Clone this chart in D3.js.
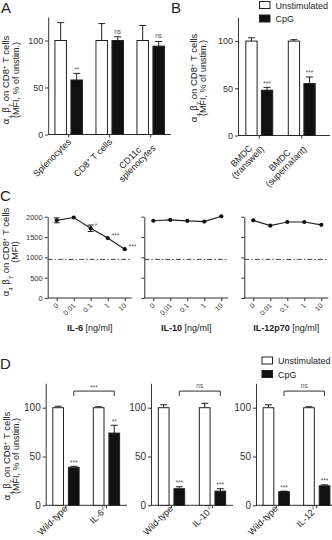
<!DOCTYPE html>
<html>
<head>
<meta charset="utf-8">
<title>alpha4 beta7 on CD8 T cells</title>
<script src="https://cdn.jsdelivr.net/npm/d3@7"></script>
<style>
  body { margin: 0; background: #fff; }
  svg text { font-family: "Liberation Sans", Arial, Helvetica, sans-serif; fill: #222; }
  .axis path, .axis line { stroke: #333; stroke-width: 1; }
  .axis text { fill: #333; }
  .sig { font-size: 6.5px; fill: #555; }
</style>
</head>
<body>
<svg id="fig" width="332" height="540"></svg>
<script>
// ---- data ----
// A: splenocyte subsets
var groupsA = ["Splenocytes", "CD8^{+} T cells", "CD11c^{-}|splenocytes"];
var unstimA = [100, 100, 100];
var unstimErrA = [19, 18, 16];
var cpgA = [58, 100, 94];
var cpgErrA = [7, 4, 5];
var sigA = ["**", "ns", "ns"];

// B: BMDC co-culture
var groupsB = ["BMDC|(transwell)", "BMDC|(supernatant)"];
var unstimB = [100, 100];
var unstimErrB = [3.5, 1.5];
var cpgB = [48, 55];
var cpgErrB = [3, 7];
var sigB = ["***", "***"];

// C: cytokine titration (MFI)
var doses = ["0", "0.01", "0.1", "1", "10"];
var il6 = [1910, 1980, 1715, 1475, 1200];
var il6Err = [60, 0, 80, 0, 0];
var il6Sig = ["", "", "*", "***", "***"];
var il10 = [1900, 1920, 1895, 1880, 2010];
var il12 = [1910, 1780, 1870, 1870, 1800];
var baselineMFI = 950;

// D: knockout mice
var groupsD1 = ["Wild-type", "IL-6^{-/-}"];
var unstimD1 = [100, 100];
var unstimErrD1 = [1.5, 1];
var cpgD1 = [39, 74];
var cpgErrD1 = [1, 8];
var sigD1 = ["***", "**"];
var groupsD2 = ["Wild-type", "IL-10^{-/-}"];
var unstimD2 = [100, 100];
var unstimErrD2 = [3, 4.5];
var cpgD2 = [17, 14.5];
var cpgErrD2 = [2, 2.5];
var sigD2 = ["***", "***"];
var groupsD3 = ["Wild-type", "IL-12^{-/-}"];
var unstimD3 = [100, 100];
var unstimErrD3 = [3, 1];
var cpgD3 = [14, 20];
var cpgErrD3 = [0.5, 1];
var sigD3 = ["***", "***"];
var bracketSig = ["***", "ns", "ns"];

var svg = d3.select("#fig");

// text with ^{sup} and _{sub} parts
function richText(sel, str) {
  str.split(/(\^\{[^}]*\}|_\{[^}]*\})/).forEach(function (part) {
    if (!part) return;
    if (part[0] == "^") {
      sel.append("tspan").attr("baseline-shift", "super").attr("font-size", "65%").text(part.slice(2, -1));
    } else if (part[0] == "_") {
      sel.append("tspan").attr("baseline-shift", "sub").attr("font-size", "65%").text(part.slice(2, -1));
    } else {
      sel.append("tspan").text(part);
    }
  });
  return sel;
}

// rotated category labels under an axis
function xLabels(g, xs, labels, yAxis, fs, dx, dy) {
  labels.forEach(function (lab, i) {
    var lines = lab.split("|");
    var t = g.append("g");
    if (lines.length == 1) {
      t.attr("transform", "translate(" + (xs[i] + dx) + "," + (yAxis + dy) + ") rotate(-45)");
      richText(t.append("text").attr("text-anchor", "end").style("font-size", fs + "px"), lines[0]);
    } else {
      t.attr("transform", "translate(" + (xs[i] + dx - 4) + "," + (yAxis + dy) + ") rotate(-45)");
      var texts = lines.map(function (l, j) {
        return richText(t.append("text").attr("text-anchor", "middle")
          .attr("y", j * fs).style("font-size", fs + "px"), l);
      });
      var w = d3.max(texts, function (tx) { return tx.node().getComputedTextLength(); });
      texts.forEach(function (tx) { tx.attr("x", -w / 2); });
    }
  });
}

function yLabel(x1, x2, cy, line1, line2, fs) {
  var t = svg.append("g").attr("transform", "rotate(-90)");
  richText(t.append("text").attr("x", -cy).attr("y", x1).attr("text-anchor", "middle")
    .style("font-size", fs + "px"), line1);
  t.append("text").attr("x", -cy).attr("y", x2).attr("text-anchor", "middle")
    .style("font-size", (fs - 0.5) + "px").text(line2);
}

function legend(x, y) {
  var g = svg.append("g").attr("transform", "translate(" + x + "," + y + ")");
  g.append("rect").attr("x", 0).attr("y", 0).attr("width", 10.5).attr("height", 7)
    .attr("fill", "#fff").attr("stroke", "#222");
  g.append("rect").attr("x", 0).attr("y", 13.5).attr("width", 10.5).attr("height", 7)
    .attr("fill", "#111").attr("stroke", "#222");
  g.append("text").attr("x", 16).attr("y", 7).style("font-size", "9px").text("Unstimulated");
  g.append("text").attr("x", 16).attr("y", 20.5).style("font-size", "9px").text("CpG");
}

function panelLetter(s, x, y) {
  svg.append("text").attr("x", x).attr("y", y).style("font-size", "15px").text(s);
}

function drawBars(c) {
  var g = svg.append("g");
  var x = d3.scaleBand().domain(d3.range(c.groups.length)).range([c.x0, c.x1]);
  var y = d3.scaleLinear().domain([0, 125]).range([c.y0, c.yTop]);
  var cx = c.groups.map(function (d, i) { return x(i) + x.bandwidth() / 2; });

  g.append("g").attr("class", "axis").attr("transform", "translate(" + c.x0 + ",0)")
    .call(d3.axisLeft(y).tickValues([0, 50, 100]).tickSize(3).tickSizeOuter(0).tickPadding(2))
    .selectAll("text").style("font-size", c.tickFs + "px");
  g.append("g").attr("class", "axis").attr("transform", "translate(0," + c.y0 + ")")
    .call(d3.axisBottom(x).tickSize(3).tickSizeOuter(0).tickFormat(""))
    .select(".domain").attr("d", "M" + c.x0 + ",0H" + c.xEnd);

  xLabels(g, cx, c.groups, c.y0, c.labFs, c.labDx, c.labDy);

  var series = [
    { v: c.unstim, e: c.unstimErr, fill: "#fff", off: -c.off },
    { v: c.cpg, e: c.cpgErr, fill: "#111", off: c.off }
  ];
  series.forEach(function (s) {
    var sg = g.append("g");
    sg.selectAll("line.err").data(s.v).join("line").attr("class", "err")
      .attr("x1", function (d, i) { return cx[i] + s.off; })
      .attr("x2", function (d, i) { return cx[i] + s.off; })
      .attr("y1", function (d) { return y(d); })
      .attr("y2", function (d, i) { return y(d + s.e[i]); })
      .attr("stroke", "#222");
    sg.selectAll("line.cap").data(s.v).join("line").attr("class", "cap")
      .attr("x1", function (d, i) { return cx[i] + s.off - 3.5; })
      .attr("x2", function (d, i) { return cx[i] + s.off + 3.5; })
      .attr("y1", function (d, i) { return y(d + s.e[i]); })
      .attr("y2", function (d, i) { return y(d + s.e[i]); })
      .attr("stroke", "#222");
    sg.selectAll("rect").data(s.v).join("rect")
      .attr("x", function (d, i) { return cx[i] + s.off - c.barW / 2; })
      .attr("y", function (d) { return y(d); })
      .attr("width", c.barW)
      .attr("height", function (d) { return y(0) - y(d); })
      .attr("fill", s.fill).attr("stroke", "#222").attr("stroke-width", 1);
  });

  g.selectAll("text.sig").data(c.sig).join("text").attr("class", "sig")
    .attr("text-anchor", "middle")
    .attr("x", function (d, i) { return cx[i] + c.off; })
    .attr("y", function (d, i) { return y(c.cpg[i] + c.cpgErr[i]) - (d == "ns" ? 3 : 1.5); })
    .text(function (d) { return d; });

  if (c.bracket) {
    var bx1 = cx[0] + c.off, bx2 = cx[1] + c.off;
    g.append("path")
      .attr("d", "M" + bx1 + "," + y(112) + "V" + y(117) + "H" + bx2 + "V" + y(112))
      .attr("fill", "none").attr("stroke", "#333");
    g.append("text").attr("class", "sig").attr("text-anchor", "middle")
      .attr("x", (bx1 + bx2) / 2).attr("y", y(117) - (c.bracket == "ns" ? 3 : 1.5))
      .text(c.bracket);
  }
}

function drawLines(c) {
  var g = svg.append("g");
  var y0 = 298;
  var x = d3.scalePoint().domain(doses).range([c.ax + 9, c.ax + 77]);
  var y = d3.scaleLinear().domain([0, 2000]).range([y0, 216.7]);

  g.append("g").attr("class", "axis").attr("transform", "translate(" + c.ax + ",0)")
    .call(d3.axisLeft(y).tickValues([0, 500, 1000, 1500, 2000]).tickSize(3).tickSizeOuter(0)
      .tickPadding(2).tickFormat(c.showTicks ? d3.format("d") : ""))
    .selectAll("text").style("font-size", "7.5px");
  g.append("g").attr("class", "axis").attr("transform", "translate(0," + y0 + ")")
    .call(d3.axisBottom(x).tickSize(3).tickSizeOuter(0).tickFormat(""))
    .select(".domain").attr("d", "M" + c.ax + ",0H" + (c.ax + 84));

  doses.forEach(function (d) {
    g.append("text").attr("transform", "translate(" + (x(d) + 2) + "," + (y0 + 8) + ") rotate(-45)")
      .attr("text-anchor", "end").style("font-size", "7px").style("fill", "#333").text(d);
  });

  g.append("line").attr("x1", c.ax).attr("x2", c.ax + 84)
    .attr("y1", y(baselineMFI)).attr("y2", y(baselineMFI))
    .attr("stroke", "#444").attr("stroke-dasharray", "5,2,1.5,2");

  if (c.err) {
    g.selectAll("line.err").data(c.vals).join("line").attr("class", "err")
      .attr("x1", function (d, i) { return x(doses[i]); })
      .attr("x2", function (d, i) { return x(doses[i]); })
      .attr("y1", function (d, i) { return y(d - c.err[i]); })
      .attr("y2", function (d, i) { return y(d + c.err[i]); })
      .attr("stroke", "#222");
    c.err.forEach(function (e, i) {
      if (!e) return;
      [-1, 1].forEach(function (sgn) {
        g.append("line").attr("x1", x(doses[i]) - 3).attr("x2", x(doses[i]) + 3)
          .attr("y1", y(c.vals[i] + sgn * e)).attr("y2", y(c.vals[i] + sgn * e))
          .attr("stroke", "#222");
      });
    });
  }

  g.append("path").datum(c.vals)
    .attr("d", d3.line().x(function (d, i) { return x(doses[i]); }).y(function (d) { return y(d); }))
    .attr("fill", "none").attr("stroke", "#222").attr("stroke-width", 1.2);
  g.selectAll("circle").data(c.vals).join("circle")
    .attr("cx", function (d, i) { return x(doses[i]); })
    .attr("cy", function (d) { return y(d); })
    .attr("r", 2.1).attr("fill", "#111");

  if (c.sig) {
    g.selectAll("text.sig").data(c.sig).join("text").attr("class", "sig")
      .attr("x", function (d, i) { return x(doses[i]) + 4; })
      .attr("y", function (d, i) { return y(c.vals[i]); })
      .text(function (d) { return d; });
  }

  var t = g.append("text").attr("x", c.ax + 42).attr("y", 331).attr("text-anchor", "middle")
    .style("font-size", "9px");
  t.append("tspan").style("font-weight", "bold").text(c.title);
  t.append("tspan").text(" [ng/ml]");
}

// ---- panel A ----
panelLetter("A", 1, 13);
yLabel(9, 19, 80, "α_{4} β_{7} on CD8^{+} T cells", "(MFI, % of unstim.)", 9.5);
drawBars({ groups: groupsA, unstim: unstimA, unstimErr: unstimErrA, cpg: cpgA, cpgErr: cpgErrA,
  sig: sigA, x0: 48.2, x1: 171.2, xEnd: 171, y0: 134.5, yTop: 17, barW: 11.5, off: 8,
  tickFs: 9, labFs: 9, labDx: 3, labDy: 8 });

// ---- panel B ----
panelLetter("B", 171, 13);
legend(259.5, 1.5);
yLabel(196.5, 206, 78, "α_{4} β_{7} on CD8^{+} T cells", "(MFI, % of unstim.)", 9.5);
drawBars({ groups: groupsB, unstim: unstimB, unstimErr: unstimErrB, cpg: cpgB, cpgErr: cpgErrB,
  sig: sigB, x0: 238, x1: 323, xEnd: 330, y0: 135.5, yTop: 17.5, barW: 11.3, off: 7.8,
  tickFs: 9, labFs: 9, labDx: 3, labDy: 8 });

// ---- panel C ----
panelLetter("C", 0, 201);
yLabel(9, 18, 252, "α_{4} β_{7} on CD8^{+} T cells", "(MFI)", 9.5);
drawLines({ ax: 47.7, vals: il6, err: il6Err, sig: il6Sig, title: "IL-6", showTicks: true });
drawLines({ ax: 144.3, vals: il10, title: "IL-10", showTicks: false });
drawLines({ ax: 244.3, vals: il12, title: "IL-12p70", showTicks: false });

// ---- panel D ----
panelLetter("D", 0, 369);
legend(262, 357);
yLabel(10, 19, 456, "α_{4} β_{7} on CD8^{+} T cells", "(MFI, % of unstim.)", 9.5);
var dCommon = { y0: 505.3, yTop: 383.3, barW: 10.7, off: 7.8, tickFs: 10, labFs: 9, labDx: 2, labDy: 4 };
drawBars(Object.assign({ groups: groupsD1, unstim: unstimD1, unstimErr: unstimErrD1, cpg: cpgD1,
  cpgErr: cpgErrD1, sig: sigD1, bracket: bracketSig[0], x0: 45.7, x1: 126.7, xEnd: 127 }, dCommon));
drawBars(Object.assign({ groups: groupsD2, unstim: unstimD2, unstimErr: unstimErrD2, cpg: cpgD2,
  cpgErr: cpgErrD2, sig: sigD2, bracket: bracketSig[1], x0: 151, x1: 233, xEnd: 233 }, dCommon));
drawBars(Object.assign({ groups: groupsD3, unstim: unstimD3, unstimErr: unstimErrD3, cpg: cpgD3,
  cpgErr: cpgErrD3, sig: sigD3, bracket: bracketSig[2], x0: 256, x1: 337, xEnd: 332 }, dCommon));
</script>
</body>
</html>
